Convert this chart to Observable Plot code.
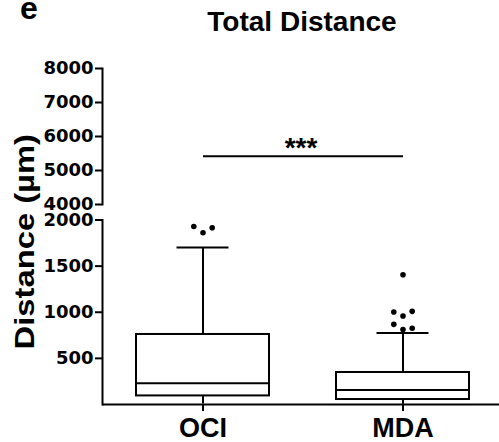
<!DOCTYPE html>
<html><head><meta charset="utf-8">
<script src="https://cdn.jsdelivr.net/npm/d3@7"></script>
<script src="https://cdn.jsdelivr.net/npm/@observablehq/plot@0.6"></script>
<style>
html,body{margin:0;padding:0;background:#fff;}
#chart{position:relative;width:499px;height:442px;overflow:hidden;background:#fff;}
#chart > svg{position:absolute;left:0;}
</style></head><body><div id="chart"></div>
<script>
// ---- data ----
const groups = ["OCI", "MDA"];
const q1 = [93, 54];
const median = [231, 158];
const q3 = [759, 347];
const whiskerLow = [6, 4];
const whiskerHigh = [1702, 776];
const outlierGroup = ["OCI", "OCI", "OCI", "MDA", "MDA", "MDA", "MDA", "MDA", "MDA", "MDA"];
const outlierValue = [1862, 1916, 1930, 812, 826, 869, 959, 1010, 1002, 1407];
const upperTicks = [4000, 5000, 6000, 7000, 8000];
const lowerTicks = [500, 1000, 1500, 2000];
const upperDomain = [4000, 8000];
const lowerDomain = [0, 2000];
const sigValue = 5420;
const sigLabel = "***";
const titleText = "Total Distance";
const panelText = "e";
const yLabelText = "Distance (µm)";

// ---- layout / style ----
const W = 499, H = 442;
const ML = 102, MR = 0;
const upper = {top: 50, height: 160, mt: 18, mb: 6};
const lower = {top: 204, height: 238, mt: 15.5, mb: 38};
const SANS = "'Liberation Sans', Arial, sans-serif";
const WIDE = "'DejaVu Sans', sans-serif";
const xScale = {type: "band", domain: groups, paddingInner: 0.335, paddingOuter: 0.16, align: 0.531};
const style = {background: "transparent", color: "black", overflow: "visible"};
const tickFont = {fontFamily: WIDE, fontSize: 18, fontWeight: "bold"};
const ink = {stroke: "black", strokeWidth: 2};

const boxes = groups.map((g, i) => ({
  group: g, q1: q1[i], median: median[i], q3: q3[i], lo: whiskerLow[i], hi: whiskerHigh[i]
}));

// simple beeswarm for outliers (column offsets computed, not typed)
const lowerFrame = lower.height - lower.mt - lower.mb;
const pxPerUnit = lowerFrame / (lowerDomain[1] - lowerDomain[0]);
const step = 9.2, minDist = 7;
const outliers = outlierValue.map((v, i) => ({group: outlierGroup[i], value: v}));
for (const g of groups) {
  const placed = [];
  for (const d of outliers.filter(o => o.group === g)) {
    const y = d.value * pxPerUnit;
    d.col = 0;
    for (const k of [0, 1, -1, 2, -2]) {
      const x = k * step;
      if (placed.every(p => Math.hypot(p.x - x, p.y - y) >= minDist)) { d.col = k; placed.push({x, y}); break; }
    }
  }
}

const lowerPlot = Plot.plot({
  width: W, height: lower.height,
  marginLeft: ML, marginRight: MR, marginTop: lower.mt, marginBottom: lower.mb,
  x: xScale,
  y: {domain: lowerDomain},
  style,
  marks: [
    Plot.ruleX(boxes, {x: "group", y1: "lo", y2: "q1", ...ink}),
    Plot.ruleX(boxes, {x: "group", y1: "q3", y2: "hi", ...ink}),
    Plot.tickY(boxes, {x: "group", y: "hi", insetLeft: 40.5, insetRight: 40.5, ...ink}),
    Plot.barY(boxes, {x: "group", y1: "q1", y2: "q3", fill: "white", ...ink}),
    Plot.tickY(boxes, {x: "group", y: "median", ...ink}),
    ...[-2, -1, 0, 1, 2].map(k => Plot.dot(outliers.filter(d => d.col === k),
      {x: "group", y: "value", dx: k * step, r: 2.8, fill: "black"})),
    Plot.frame({anchor: "left", ...ink}),
    Plot.ruleY([lowerDomain[0]], ink),
    Plot.axisY({ticks: lowerTicks, tickFormat: d3.format("d"), tickSize: 7, tickPadding: 2,
      label: null, strokeWidth: 2, ...tickFont}),
    Plot.axisX({tickSize: 7, tickPadding: 6.5, label: null, strokeWidth: 2,
      fontFamily: SANS, fontSize: 27, fontWeight: "bold"})
  ]
});

const upperPlot = Plot.plot({
  width: W, height: upper.height,
  marginLeft: ML, marginRight: MR, marginTop: upper.mt, marginBottom: upper.mb,
  x: {...xScale, axis: null},
  y: {domain: upperDomain},
  style,
  marks: [
    Plot.link([{a: groups[0], b: groups[1], v: sigValue}], {x1: "a", x2: "b", y1: "v", y2: "v", ...ink}),
    Plot.text([{t: sigLabel, v: sigValue}], {text: "t", y: "v", lineAnchor: "bottom", dy: 1,
      fontFamily: SANS, fontSize: 28, fontWeight: "bold", fill: "black"}),
    Plot.frame({anchor: "left", ...ink}),
    Plot.axisY({ticks: upperTicks, tickFormat: d3.format("d"), tickSize: 7, tickPadding: 2,
      label: null, strokeWidth: 2, ...tickFont})
  ]
});

const chart = document.getElementById("chart");
upperPlot.style.top = upper.top + "px";
lowerPlot.style.top = lower.top + "px";
chart.appendChild(upperPlot);
chart.appendChild(lowerPlot);

// text overlay: panel letter, title, y-axis label
const overlay = d3.create("svg").attr("width", W).attr("height", H)
  .style("top", "0px").style("pointer-events", "none")
  .attr("font-family", SANS).attr("font-weight", "bold").attr("fill", "black");
overlay.append("text").attr("x", 20).attr("y", 19).attr("font-size", 32).text(panelText);
overlay.append("text").attr("x", 302).attr("y", 30.7).attr("font-size", 28)
  .attr("text-anchor", "middle").text(titleText);
overlay.append("text").attr("transform", "translate(33.5,241.7) rotate(-90) scale(1.17,1)")
  .attr("font-size", 28).attr("text-anchor", "middle").text(yLabelText);
chart.appendChild(overlay.node());
</script></body></html>
